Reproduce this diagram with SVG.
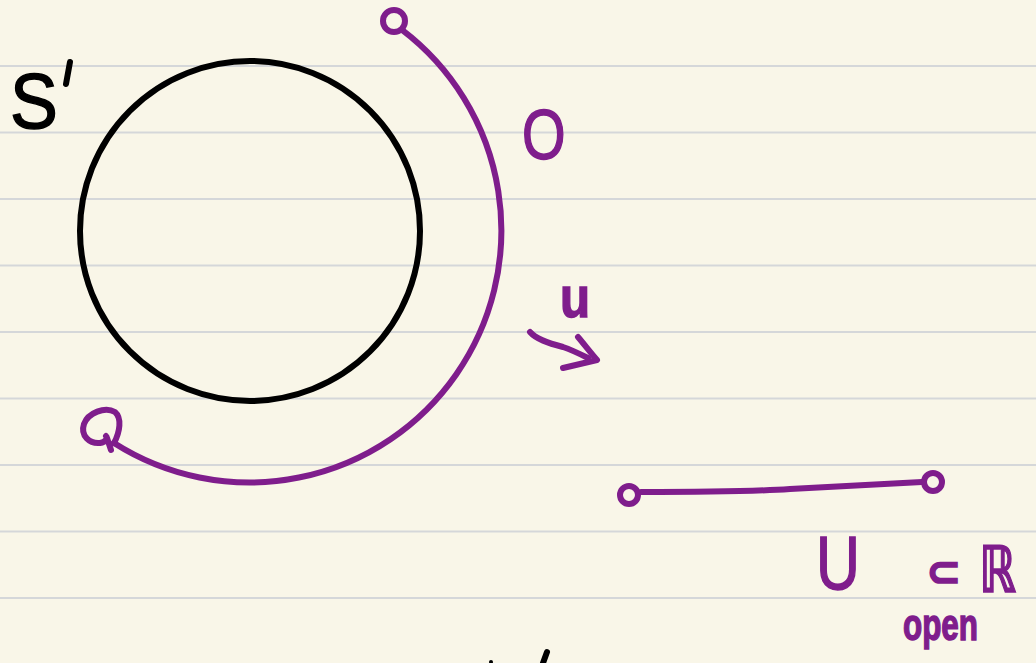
<svg xmlns="http://www.w3.org/2000/svg" width="1036" height="663" viewBox="0 0 1036 663">
<style>
.rule{stroke:#d5d7d9;stroke-width:2}
.pen{fill:none;stroke:#7f1d8c;stroke-width:6;stroke-linecap:round;stroke-linejoin:round}
.ink{fill:none;stroke:#000;stroke-width:6;stroke-linecap:round}
.pt{fill:#7f1d8c;stroke:#7f1d8c;stroke-width:1.5;font-family:"Liberation Sans","DejaVu Sans",sans-serif}
.bt{fill:#000;stroke:#000;stroke-width:1.5;font-family:"Liberation Sans","DejaVu Sans",sans-serif}
</style>
<rect width="1036" height="663" fill="#f9f6e8"/>
<g id="rules">
<line class="rule" x1="0" y1="66" x2="1036" y2="66"/>
<line class="rule" x1="0" y1="132.5" x2="1036" y2="132.5"/>
<line class="rule" x1="0" y1="199" x2="1036" y2="199"/>
<line class="rule" x1="0" y1="265.5" x2="1036" y2="265.5"/>
<line class="rule" x1="0" y1="332" x2="1036" y2="332"/>
<line class="rule" x1="0" y1="398.5" x2="1036" y2="398.5"/>
<line class="rule" x1="0" y1="465" x2="1036" y2="465"/>
<line class="rule" x1="0" y1="531.5" x2="1036" y2="531.5"/>
<line class="rule" x1="0" y1="598" x2="1036" y2="598"/>
</g>
<g id="circle-S1">
<circle cx="250" cy="231" r="170" fill="none" stroke="#000" stroke-width="6"/>
<text class="bt" x="0" y="0" font-size="78" transform="translate(10 128) scale(0.92 1)">S</text>
<line class="ink" x1="70" y1="62" x2="66" y2="84"/>
</g>
<g id="open-arc">
<path class="pen" d="M401.7 29.7 A252 252 0 0 1 114 443"/>
<circle class="pen" cx="394" cy="21" r="11"/>
<path class="pen" d="M114 443 C120 432 122 418 115 412 C105 406 88 413 84 424 C80 436 90 444 100 443 C106 442 108 438 106 436 M107 438 L111 450"/>
<text class="pt" x="0" y="0" font-size="70" transform="translate(522 159) scale(0.8 1)">O</text>
</g>
<g id="map">
<text class="pt" x="0" y="0" font-size="58" font-weight="bold" transform="translate(560 317) scale(0.85 1)">u</text>
<path class="pen" d="M530 332 C536 339 548 343 563 347 C572 350 580 354 588 358"/>
<path class="pen" d="M578 337 C584 344 590 352 597 360 L563 368"/>
</g>
<g id="interval">
<path class="pen" d="M641 492 C700 492 760 491 790 489 C840 486 890 484 922 482"/>
<circle class="pen" cx="629" cy="495" r="9"/>
<circle class="pen" cx="933" cy="482" r="9"/>
</g>
<g id="label-U">
<text class="pt" x="0" y="0" font-size="76" transform="translate(816 589) scale(0.8 1)">U</text>
<text class="pt" x="926" y="586" font-size="42" font-weight="bold" font-family="DejaVu Sans">⊂</text>
<text class="pt" x="0" y="0" font-size="64" font-weight="bold" font-family="DejaVu Sans" transform="translate(979 592) scale(0.72 1)">ℝ</text>
<text class="pt" x="903" y="640" font-size="44" font-weight="bold" textLength="75" lengthAdjust="spacingAndGlyphs">open</text>
</g>
<g id="fragment">
<line class="ink" x1="547" y1="652" x2="543" y2="663"/>
<circle cx="491" cy="662" r="2" fill="#000"/>
</g>
</svg>
